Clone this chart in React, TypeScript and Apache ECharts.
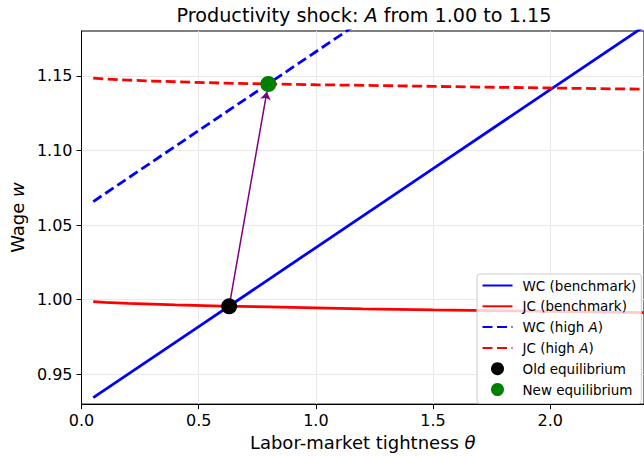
import React, { useEffect, useRef } from "react";
import * as echarts from "echarts";

// ---- data ----
const thetaWC = [0.05, 0.5, 1.0, 1.5, 2.0, 2.4];
const wcBench = [0.9343, 0.9819, 1.0349, 1.0878, 1.1407, 1.1830];
const thetaWCHigh = [0.05, 0.5, 1.0, 1.2];
const wcHigh = [1.0657, 1.1133, 1.1661, 1.1873];
const thetaJC = [0.05, 0.1, 0.2, 0.3, 0.4, 0.6, 0.8, 1.0, 1.2, 1.5, 2.0, 2.4];
const jcBench = [0.9987, 0.9982, 0.9975, 0.997, 0.9965, 0.9957, 0.9951, 0.9945, 0.9938, 0.9931, 0.9921, 0.9913];
const jcHigh = [1.1484, 1.1479, 1.1471, 1.1465, 1.146, 1.1451, 1.1445, 1.144, 1.1436, 1.1429, 1.1418, 1.141];
const oldEq = [0.63, 0.9955];
const newEq = [0.797, 1.1445];
const arrowEnd = [0.791, 1.1393];
const xTicks = [0, 0.5, 1.0, 1.5, 2.0];
const yTicks = [0.95, 1.0, 1.05, 1.1, 1.15];
const legendNames = [
  "WC (benchmark)",
  "JC (benchmark)",
  "WC (high A)",
  "JC (high A)",
  "Old equilibrium",
  "New equilibrium",
];

const FONT = "DejaVu Sans";

const zip = (xs: number[], ys: number[]) => xs.map((x, i) => [x, ys[i]]);

export default function App() {
  const ref = useRef<HTMLDivElement>(null);
  useEffect(() => {
    if (!ref.current) return;
    const chart = echarts.init(ref.current, null, { renderer: "svg" });
    const lineBase = (name: string, data: number[][], color: string, dashed: boolean) => ({
      name,
      type: "line",
      data,
      symbol: "none",
      showSymbol: false,
      clip: true,
      lineStyle: { color, width: 2.8, type: dashed ? [10, 4.5] : "solid" },
      itemStyle: { color },
      z: 3,
    });
    chart.setOption({
      animation: false,
      backgroundColor: "#ffffff",
      textStyle: { fontFamily: FONT },
      graphic: [
        {
          type: "text",
          x: 364,
          y: 6,
          style: {
            text: "{n|Productivity shock: }{i|A}{n| from 1.00 to 1.15}",
            align: "center",
            verticalAlign: "top",
            rich: {
              n: { fontFamily: FONT, fontSize: 19.2, fill: "#000" },
              i: { fontFamily: FONT, fontSize: 19.2, fontStyle: "italic", fill: "#000" },
            },
          },
        },
      ],
      grid: {
        left: 80,
        top: 31,
        width: 570,
        height: 377,
        show: true,
        borderColor: "#000",
        borderWidth: 1,
        backgroundColor: "transparent",
      },
      legend: {
        orient: "vertical",
        left: 477,
        top: 274,
        data: legendNames.map((n) =>
          n.includes("equilibrium")
            ? { name: n, icon: "circle" }
            : { name: n, itemStyle: { opacity: 0 } }
        ),
        itemWidth: 30,
        itemHeight: 13,
        itemGap: 6.8,
        padding: [4.5, 5, 7, 4.5],
        backgroundColor: "rgba(255,255,255,0.8)",
        borderColor: "#cccccc",
        borderWidth: 1,
        borderRadius: 3,
        formatter: (name: string) => {
          if (name.endsWith("(high A)")) {
            return "{n|" + name.replace("A)", "") + "}{i|A}{n|)}";
          }
          return "{n|" + name + "}";
        },
        textStyle: {
          fontFamily: FONT,
          fontSize: 13.5,
          color: "#000",
          padding: [0, 0, 0, 5],
          rich: {
            n: { fontFamily: FONT, fontSize: 13.5, color: "#000", lineHeight: 13 },
            i: { fontFamily: FONT, fontSize: 13.5, color: "#000", fontStyle: "italic", lineHeight: 13 },
          },
        },
      },
      xAxis: {
        type: "value",
        min: 0,
        max: 2.4,
        name: "{n|Labor-market tightness }{i|θ}",
        nameLocation: "middle",
        nameGap: 25,
        nameTextStyle: {
          rich: {
            n: { fontFamily: FONT, fontSize: 18, color: "#000" },
            i: { fontFamily: FONT, fontSize: 18, color: "#000", fontStyle: "italic" },
          },
        },
        axisLine: { show: true, onZero: false, lineStyle: { color: "#000", width: 1 } },
        axisTick: { show: true, inside: false, length: 5, lineStyle: { color: "#000" }, customValues: xTicks },
        axisLabel: {
          customValues: xTicks,
          formatter: (v: number) => v.toFixed(1),
          fontFamily: FONT,
          fontSize: 16,
          color: "#000",
          margin: 8,
        },
        splitLine: { show: true, lineStyle: { color: "#e8e8e8", width: 1 } },
      },
      yAxis: {
        type: "value",
        min: 0.93,
        max: 1.18,
        name: "{n|Wage }{i|w}",
        nameLocation: "middle",
        nameRotate: 90,
        nameGap: 52,
        nameTextStyle: {
          rich: {
            n: { fontFamily: FONT, fontSize: 18, color: "#000" },
            i: { fontFamily: FONT, fontSize: 18, color: "#000", fontStyle: "italic" },
          },
        },
        axisLine: { show: true, onZero: false, lineStyle: { color: "#000", width: 1 } },
        axisTick: { show: true, inside: false, length: 5, lineStyle: { color: "#000" }, customValues: yTicks },
        axisLabel: {
          customValues: yTicks,
          formatter: (v: number) => v.toFixed(2),
          fontFamily: FONT,
          fontSize: 16,
          color: "#000",
          margin: 9,
        },
        splitLine: { show: true, lineStyle: { color: "#e8e8e8", width: 1 } },
      },
      series: [
        lineBase("WC (benchmark)", zip(thetaWC, wcBench), "#0000ff", false),
        lineBase("JC (benchmark)", zip(thetaJC, jcBench), "#ff0000", false),
        lineBase("WC (high A)", zip(thetaWCHigh, wcHigh), "#0000ff", true),
        lineBase("JC (high A)", zip(thetaJC, jcHigh), "#ff0000", true),
        {
          name: "arrow",
          type: "lines",
          coordinateSystem: "cartesian2d",
          data: [{ coords: [oldEq, arrowEnd] }],
          symbol: ["none", "arrow"],
          symbolSize: 8,
          lineStyle: { color: "#800080", width: 1.5, opacity: 1 },
          z: 4,
        },
        {
          name: "Old equilibrium",
          type: "scatter",
          data: [oldEq],
          symbol: "circle",
          symbolSize: 16,
          itemStyle: { color: "#000000", opacity: 1 },
          z: 5,
        },
        {
          name: "New equilibrium",
          type: "scatter",
          data: [newEq],
          symbol: "circle",
          symbolSize: 16,
          itemStyle: { color: "#008000", opacity: 1 },
          z: 5,
        },
      ],
    });
    return () => chart.dispose();
  }, []);
  return (
    <div
      ref={ref}
      style={{ position: "fixed", left: 0, top: 0, width: 644, height: 456, background: "#fff" }}
    />
  );
}
